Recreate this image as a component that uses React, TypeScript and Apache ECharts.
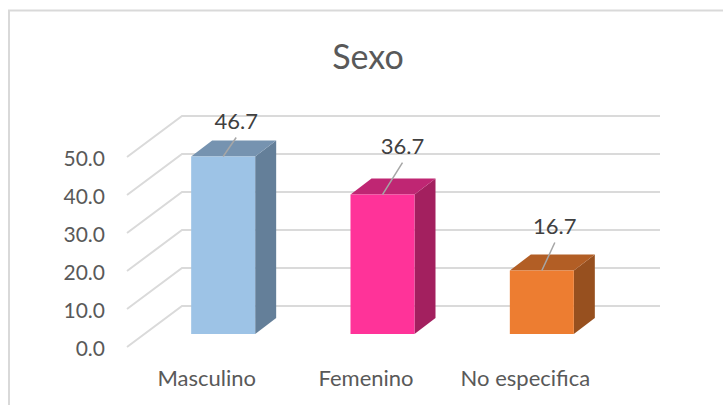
import React, { useEffect, useRef } from "react";
import * as echarts from "echarts";

const categories = ["Masculino", "Femenino", "No especifica"];
const values = [46.7, 36.7, 16.7];
const barColors = ["#9DC3E6", "#FF3399", "#ED7D31"];
const topColors = ["#7693B0", "#BF2673", "#B25E25"];
const sideColors = ["#647F99", "#A3205F", "#97501F"];
const yTicks = [0, 10, 20, 30, 40, 50];
const leaderDx = [13, 20, 13];
const leaderDy = [-19, -32, -28];
const labelGap = [-17, -17, -17];

const FONT = "Lato, 'Open Sans', sans-serif";
const WALL = { dx: 55, dy: -41 };
const BAR = { shiftX: 16.5, shiftY: -13, width: 64, dx: 21, dy: -16 };

export default function App() {
  const ref = useRef<HTMLDivElement>(null);
  useEffect(() => {
    const chart = echarts.init(ref.current!, undefined, { renderer: "svg" });
    chart.setOption({
      animation: false,
      backgroundColor: "#ffffff",
      title: {
        text: "Sexo",
        left: 363,
        top: 33,
        textAlign: "center",
        textStyle: { fontFamily: FONT, fontSize: 34, fontWeight: "normal", color: "#595959" },
      },
      graphic: [
        {
          type: "polyline",
          silent: true,
          shape: { points: [[9, 405], [9, 10.5], [723, 10.5]] },
          style: { fill: "none", stroke: "#D9D9D9", lineWidth: 2 },
        },
      ],
      grid: { left: 127, top: 157, width: 478, height: 190 },
      xAxis: {
        type: "category",
        data: categories,
        axisLine: { show: false },
        axisTick: { show: false },
        axisLabel: {
          interval: 0,
          hideOverlap: false,
          fontFamily: FONT,
          fontSize: 22,
          color: "#595959",
          margin: 19,
        },
      },
      yAxis: {
        type: "value",
        min: 0,
        max: 50,
        interval: 10,
        splitLine: { show: false },
        axisLine: { show: false },
        axisTick: { show: false },
        axisLabel: {
          fontFamily: FONT,
          fontSize: 21,
          color: "#595959",
          margin: 22,
          formatter: (v: number) => v.toFixed(1),
        },
      },
      series: [
        {
          type: "custom",
          silent: true,
          z: 1,
          data: yTicks.map((t) => [0, t]),
          encode: { x: 0, y: 1 },
          renderItem: (_p: any, api: any) => {
            const y = api.coord([0, api.value(1)])[1];
            const x0 = 127;
            const x1 = x0 + WALL.dx;
            const x2 = x1 + 478;
            return {
              type: "polyline",
              shape: { points: [[x0, y], [x1, y + WALL.dy], [x2, y + WALL.dy]] },
              style: { fill: "none", stroke: "#DADADA", lineWidth: 2 },
            };
          },
        },
        {
          type: "custom",
          silent: true,
          z: 2,
          data: categories.map((c, i) => [c, values[i], i]),
          encode: { x: 0, y: 1 },
          renderItem: (_p: any, api: any) => {
            const i = api.value(2);
            const top = api.coord([categories[i], api.value(1)]);
            const base = api.coord([categories[i], 0]);
            const cx = top[0] + BAR.shiftX;
            const l = cx - BAR.width / 2;
            const r = cx + BAR.width / 2;
            const t = top[1] + BAR.shiftY;
            const b = base[1] + BAR.shiftY;
            const { dx, dy } = BAR;
            const lx = cx + leaderDx[i];
            const ly = t + leaderDy[i];
            return {
              type: "group",
              children: [
                {
                  type: "polygon",
                  shape: { points: [[r, t], [r + dx, t + dy], [r + dx, b + dy], [r, b]] },
                  style: { fill: sideColors[i] },
                },
                {
                  type: "polygon",
                  shape: { points: [[l, t], [l + dx, t + dy], [r + dx, t + dy], [r, t]] },
                  style: { fill: topColors[i] },
                },
                {
                  type: "rect",
                  shape: { x: l, y: t, width: r - l, height: b - t },
                  style: { fill: barColors[i] },
                },
                {
                  type: "line",
                  shape: { x1: cx, y1: t, x2: lx, y2: ly },
                  style: { stroke: "#A6A6A6", lineWidth: 1.5 },
                },
                {
                  type: "text",
                  style: {
                    x: lx,
                    y: ly + labelGap[i],
                    text: api.value(1).toFixed(1),
                    fill: "#404040",
                    font: `22px ${FONT}`,
                    align: "center",
                    verticalAlign: "middle",
                  },
                },
              ],
            };
          },
        },
      ],
    });
    return () => chart.dispose();
  }, []);
  return (
    <div
      ref={ref}
      style={{ position: "fixed", left: 0, top: 0, width: 723, height: 405 }}
    />
  );
}
